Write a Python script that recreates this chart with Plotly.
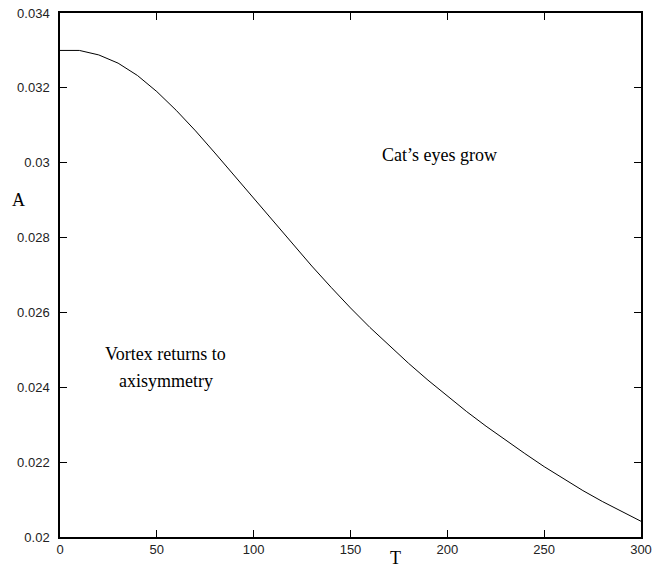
import plotly.graph_objects as go

T = [0, 10, 20, 30, 40, 50, 60, 70, 80, 90, 100, 110, 120, 130, 140, 150,
     160, 170, 180, 190, 200, 210, 220, 230, 240, 250, 260, 270, 280, 290, 300]
A = [0.03300, 0.03300, 0.03288, 0.03266, 0.03233, 0.03190, 0.03140, 0.03085,
     0.03026, 0.02965, 0.02904, 0.02843, 0.02783, 0.02724, 0.02667, 0.02612,
     0.02560, 0.02511, 0.02464, 0.02419, 0.02376, 0.02335, 0.02296, 0.02259,
     0.02223, 0.02188, 0.02155, 0.02124, 0.02095, 0.02068, 0.02042]

x_ticks = [0, 50, 100, 150, 200, 250, 300]
y_ticks = [0.02, 0.022, 0.024, 0.026, 0.028, 0.03, 0.032, 0.034]
y_ticktext = ["0.02", "0.022", "0.024", "0.026", "0.028", "0.03", "0.032", "0.034"]

fig = go.Figure()
fig.add_trace(go.Scatter(x=T, y=A, mode="lines",
                         line=dict(color="black", width=1), showlegend=False))

tickfont = dict(family="Liberation Sans, Arial, sans-serif", size=13, color="#222")
serif = "Liberation Serif, Times New Roman, serif"

fig.update_layout(
    width=654, height=569,
    margin=dict(l=60, r=13, t=13, b=32, autoexpand=False),
    paper_bgcolor="white", plot_bgcolor="white",
    xaxis=dict(range=[0, 300], tickvals=x_ticks, ticks="inside", ticklen=7,
               tickcolor="black", showline=True, linecolor="black", linewidth=1.5,
               mirror="ticks", showgrid=False, zeroline=False, tickfont=tickfont,
               automargin=False),
    yaxis=dict(range=[0.02, 0.034], tickvals=y_ticks, ticktext=y_ticktext,
               ticks="inside", ticklen=7, tickcolor="black", showline=True,
               linecolor="black", linewidth=1.5, mirror="ticks", showgrid=False,
               zeroline=False, tickfont=tickfont, ticklabelstandoff=6,
               automargin=False),
    annotations=[
        dict(x=196, y=0.03021, xref="x", yref="y", text="Cat’s eyes grow",
             showarrow=False, font=dict(family=serif, size=18, color="black")),
        dict(x=54.7, y=0.02489, xref="x", yref="y", text="Vortex returns to",
             showarrow=False, font=dict(family=serif, size=18, color="black")),
        dict(x=54.7, y=0.02417, xref="x", yref="y", text="axisymmetry",
             showarrow=False, font=dict(family=serif, size=18, color="black")),
        dict(x=-0.0706, y=0.643, xref="paper", yref="paper", text="A",
             showarrow=False, xanchor="center", yanchor="middle",
             font=dict(family=serif, size=18, color="black")),
        dict(x=0.5766, y=-0.040, xref="paper", yref="paper", text="T",
             showarrow=False, xanchor="center", yanchor="middle",
             font=dict(family=serif, size=18, color="black")),
    ],
)

fig.write_html("out.html")
